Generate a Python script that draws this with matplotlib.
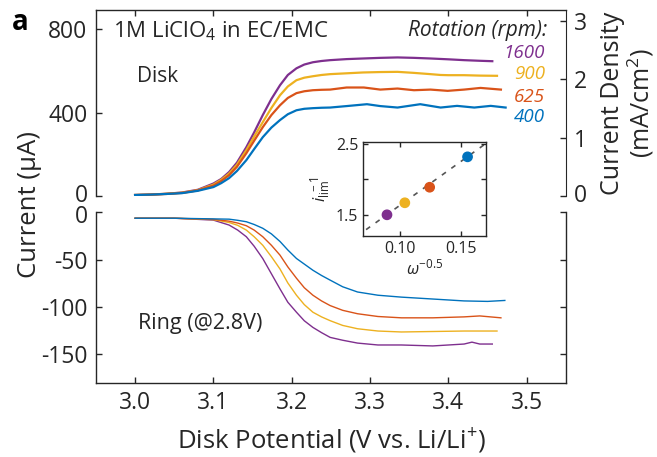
import matplotlib
matplotlib.use("Agg")
import matplotlib.pyplot as plt
import matplotlib.transforms as mtransforms

plt.rcParams['font.family'] = ['Open Sans', 'DejaVu Sans']
plt.rcParams['mathtext.fontset'] = 'custom'
plt.rcParams['mathtext.rm'] = 'Open Sans'
plt.rcParams['mathtext.it'] = 'Open Sans:italic'
plt.rcParams['mathtext.bf'] = 'Open Sans:bold'
plt.rcParams['axes.unicode_minus'] = False

ink = '#262626'
colors = {'1600': '#7E2F8E', '900': '#EDB120', '625': '#D95319', '400': '#0072BD'}
rpm_labels = ['1600', '900', '625', '400']

# disk current (uA) vs disk potential (V)
v_rise = [3.000, 3.020, 3.040, 3.060, 3.080, 3.100, 3.110, 3.120, 3.130, 3.142,
          3.152, 3.163, 3.174, 3.185, 3.195, 3.206, 3.216, 3.227, 3.238, 3.249]
disk_rise = {
    '1600': [5, 7, 11, 17, 30, 60, 82, 115, 160, 234, 305, 388, 465, 531, 580, 612, 630, 641, 647, 651],
    '900':  [5, 7, 11, 16, 28, 55, 78, 108, 150, 220, 285, 354, 422, 483, 525, 555, 567, 574, 580, 584],
    '625':  [5, 7, 10, 15, 27, 50, 72, 100, 140, 205, 265, 330, 388, 435, 470, 493, 502, 507, 509, 510],
    '400':  [5, 7, 10, 14, 25, 43, 62, 86, 120, 172, 225, 282, 328, 364, 392, 411, 418, 421, 423, 424],
}
disk_tail_v = {
    '1600': [3.270, 3.291, 3.313, 3.335, 3.356, 3.377, 3.400, 3.420, 3.440, 3.456],
    '900':  [3.270, 3.291, 3.313, 3.335, 3.356, 3.377, 3.390, 3.400, 3.420, 3.440, 3.462],
    '625':  [3.270, 3.292, 3.313, 3.335, 3.356, 3.377, 3.399, 3.420, 3.441, 3.467],
    '400':  [3.270, 3.296, 3.313, 3.335, 3.364, 3.390, 3.411, 3.433, 3.454, 3.473],
}
disk_tail_i = {
    '1600': [656, 659, 662, 664, 662, 659, 655, 651, 648, 646],
    '900':  [588, 592, 594, 595, 590, 584, 580, 579, 579, 577, 576],
    '625':  [520, 520, 510, 515, 507, 510, 504, 510, 518, 510],
    '400':  [431, 440, 431, 424, 440, 424, 432, 424, 432, 424],
}

# ring current (uA), ring held at 2.8 V
v_ring = [3.000, 3.050, 3.100, 3.120, 3.131, 3.142, 3.152, 3.163, 3.174, 3.185,
          3.195, 3.206, 3.216, 3.227, 3.238, 3.249, 3.265, 3.284]
ring_rise = {
    '1600': [-6.5, -6.5, -8.5, -13.7, -19, -26, -36, -49, -65, -81, -95, -105.5, -114.5, -121.5, -127, -132, -135, -138],
    '900':  [-6.5, -6.5, -8, -11, -14, -19, -26, -35, -47, -60, -74.7, -87.6, -97.5, -105.5, -110.4, -114.4, -119.4, -122.9],
    '625':  [-6.5, -6.5, -7.7, -9.6, -11.6, -14.4, -19, -26, -35, -45.4, -57.8, -69.7, -79.7, -87.6, -93.6, -98.5, -103.5, -107.1],
    '400':  [-6.5, -6.5, -7.2, -7.5, -8.7, -10.2, -13.1, -17.1, -23, -31, -40, -48.9, -54.8, -61.3, -66.8, -71.7, -78.7, -84.2],
}
ring_tail_v = {
    '1600': [3.310, 3.340, 3.380, 3.400, 3.420, 3.430, 3.440, 3.456],
    '900':  [3.310, 3.340, 3.380, 3.420, 3.462],
    '625':  [3.310, 3.340, 3.380, 3.420, 3.440, 3.467],
    '400':  [3.310, 3.340, 3.380, 3.420, 3.450, 3.472],
}
ring_tail_i = {
    '1600': [-140, -140, -141, -140, -139, -137, -139, -139],
    '900':  [-125.3, -126.3, -125.8, -125.3, -125.3],
    '625':  [-110, -111.4, -111.4, -110.4, -109.4, -111.4],
    '400':  [-87.6, -89.6, -91.6, -93.6, -94.1, -93.1],
}

# inset: inverse limiting current vs omega^-0.5
omega_inv_sqrt = [0.0895, 0.104, 0.1242, 0.155]
i_lim_inv = [1.50, 1.67, 1.89, 2.32]
fit_x = [0.0725, 0.170]
fit_y = [1.29, 2.51]

area_factor = 280.0  # uA per mA/cm2

fig = plt.figure(figsize=(6.57, 4.57), dpi=100)
ax_top = fig.add_axes([0.146, 0.571, 0.7154, 0.407])
ax_bot = fig.add_axes([0.146, 0.162, 0.7154, 0.374])

for r in rpm_labels:
    ax_top.plot(v_rise + disk_tail_v[r], disk_rise[r] + disk_tail_i[r], color=colors[r], lw=1.6)
    ax_bot.plot(v_ring + ring_tail_v[r], ring_rise[r] + ring_tail_i[r], color=colors[r], lw=1.0)

xt = [3.0, 3.1, 3.2, 3.3, 3.4, 3.5]
for ax in (ax_top, ax_bot):
    ax.set_xlim(2.95, 3.55)
    ax.set_xticks(xt)
    for s in ax.spines.values():
        s.set_color(ink)
        s.set_linewidth(1.0)
    ax.tick_params(direction='in', length=4, width=1.0, color=ink, labelcolor=ink,
                   labelsize=16.5, pad=6)

ax_top.spines['bottom'].set_visible(False)
ax_top.spines['right'].set_visible(False)
ax_top.set_ylim(0, 891)
ax_top.set_yticks([0, 400, 800])
ax_top.tick_params(axis='x', bottom=False, labelbottom=False, top=True)

sec = ax_top.secondary_yaxis('right', functions=(lambda x: x / area_factor, lambda x: x * area_factor))
sec.set_yticks([0, 1, 2, 3])
sec.spines['right'].set_color(ink)
sec.tick_params(direction='in', length=4, width=1.0, color=ink, labelcolor=ink,
                labelsize=16.5, pad=6)
sec.set_ylabel('Current Density\n(mA/cm$^2$)', fontsize=18, color=ink, labelpad=9, linespacing=1.05)

ax_bot.spines['top'].set_visible(False)
ax_bot.set_ylim(-180, 0)
ax_bot.set_yticks([0, -50, -100, -150])
ax_bot.tick_params(axis='y', right=True)
ax_bot.set_xticklabels(['3.0', '3.1', '3.2', '3.3', '3.4', '3.5'])
ax_bot.set_xlabel('Disk Potential (V vs. Li/Li$^{+}$)', fontsize=18.5, color=ink, labelpad=8)

# the two zero labels sit a little apart, as in the original
fig.canvas.draw()
ax_top.get_yticklabels()[0].set_transform(
    ax_top.get_yticklabels()[0].get_transform() + mtransforms.ScaledTranslation(0, 3 / 100, fig.dpi_scale_trans))
sec.get_yticklabels()[0].set_transform(
    sec.get_yticklabels()[0].get_transform() + mtransforms.ScaledTranslation(0, 3 / 100, fig.dpi_scale_trans))
ax_bot.get_yticklabels()[0].set_transform(
    ax_bot.get_yticklabels()[0].get_transform() + mtransforms.ScaledTranslation(0, -2 / 100, fig.dpi_scale_trans))

fig.text(30 / 657, 1 - 205 / 457, 'Current (μA)', rotation=90, ha='center', va='center',
         fontsize=18.5, color=ink)
fig.text(12 / 657, 1 - 22 / 457, 'a', fontsize=20, fontweight='bold', ha='left', va='center', color='black')

ax_top.text(0.036, 0.887, '1M LiClO$_4$ in EC/EMC', transform=ax_top.transAxes, fontsize=16,
            color=ink, ha='left', va='center')
ax_top.text(0.087, 0.645, 'Disk', transform=ax_top.transAxes, fontsize=15, color=ink,
            ha='left', va='center')
ax_top.text(0.96, 0.892, 'Rotation (rpm):', transform=ax_top.transAxes, fontsize=15,
            color=ink, ha='right', va='center', style='italic')
label_y = [0.769, 0.656, 0.532, 0.425]
for r, yy in zip(rpm_labels, label_y):
    ax_top.text(0.955, yy, r, transform=ax_top.transAxes, fontsize=13.5, color=colors[r],
                ha='right', va='center', style='italic')
ax_bot.text(0.089, 0.345, 'Ring (@2.8V)', transform=ax_bot.transAxes, fontsize=15.5,
            color=ink, ha='left', va='center')

ax_in = fig.add_axes([363 / 657, 1 - 236 / 457, 123 / 657, 94 / 457])
ax_in.plot(fit_x, fit_y, color='#555555', lw=1.2, ls=(0, (3, 4)), zorder=1)
ax_in.scatter(omega_inv_sqrt, i_lim_inv, s=45, c=[colors[r] for r in rpm_labels], zorder=2)
ax_in.set_xlim(0.07, 0.17)
ax_in.set_ylim(1.2, 2.53)
ax_in.set_xticks([0.10, 0.15])
ax_in.set_xticklabels(['0.10', '0.15'])
ax_in.set_yticks([1.5, 2.0, 2.5])
ax_in.set_yticklabels(['1.5', '', '2.5'])
for s in ax_in.spines.values():
    s.set_color(ink)
    s.set_linewidth(1.0)
ax_in.tick_params(direction='in', length=3.5, width=1.0, color=ink, labelcolor=ink, labelsize=11.5,
                  top=True, right=True)
ax_in.set_xlabel(r'$\omega^{-0.5}$', fontsize=12, color=ink, labelpad=1)
ax_in.set_ylabel(r'$i_{\rm lim}^{\ -1}$', fontsize=12, color=ink, labelpad=2)

fig.savefig('out.png', dpi=100)
